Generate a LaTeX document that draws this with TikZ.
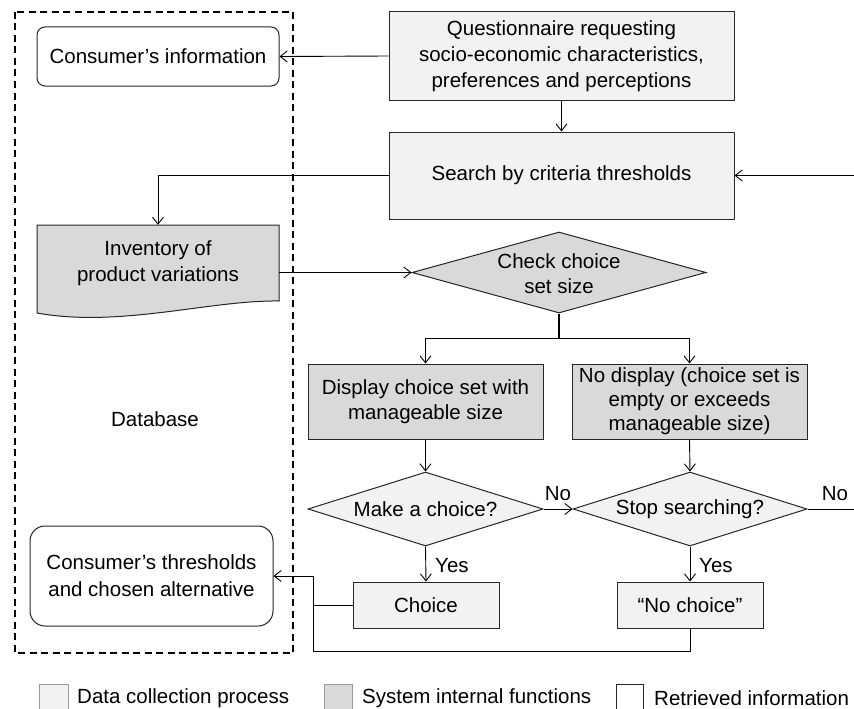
\documentclass[tikz,border=0pt]{standalone}
\usepackage{fontspec}
\setmainfont{Liberation Sans}
\usetikzlibrary{arrows.meta,shapes.geometric,calc}
\definecolor{lightg}{HTML}{F2F2F2}
\definecolor{midg}{HTML}{D9D9D9}
\definecolor{edge}{HTML}{262626}
\definecolor{legedge}{HTML}{9A9A9A}
\begin{document}
\begin{tikzpicture}[x=1pt,y=-1pt,
  every node/.style={font=\fontsize{20.5}{26}\selectfont},
  box/.style={rectangle,draw=edge,line width=1pt,align=center,inner sep=0pt},
  collect/.style={box,fill=lightg},
  sysfn/.style={box,fill=midg},
  retrieved/.style={box,fill=white,rounded corners=8pt},
  dia/.style={diamond,draw=edge,line width=1pt,inner sep=0pt},
  arr/.style={draw=black,line width=0.9pt,-{Straight Barb[length=7pt,width=11pt]}},
  conn/.style={draw=black,line width=0.9pt},
  lab/.style={inner sep=0pt},
  legbox/.style={draw=legedge,line width=1pt}
]
\useasboundingbox (0,0) rectangle (854,709);
\fill[white] (0,0) rectangle (854,709);

% Database frame
\draw[line width=1.7pt,dash pattern=on 7pt off 4.5pt] (15,12) rectangle (293,653);
\node[lab] (db) at (155,419) {Database};

% top boxes
\node[retrieved,minimum width=242pt,minimum height=59pt] (ci) at (158,56.5) {Consumer’s information};
\node[collect,minimum width=345pt,minimum height=88pt] (q) at (561.5,56) {Questionnaire requesting\\socio-economic characteristics,\\preferences and perceptions};
\node[collect,minimum width=345pt,minimum height=87pt] (s) at (561.5,175.5) {Search by criteria thresholds};

% inventory (document shape)
\fill[midg] (37,225) -- (279,225) -- (279,301) .. controls (210,300) and (120,328) .. (37,313) -- cycle;
\draw[edge,line width=1pt] (37,225) -- (279,225) -- (279,301) .. controls (210,300) and (120,328) .. (37,313) -- cycle;
\node[lab,align=center,minimum width=242pt,minimum height=76pt] (inv) at (158,263) {Inventory of\\product variations};

% check diamond
\node[dia,fill=midg,minimum width=294pt,minimum height=81pt] (d1) at (559,272.5) {};
\node[lab,align=center,font=\fontsize{20.5}{25}\selectfont] (d1t) at (559,274) {Check choice\\set size};

% display boxes
\node[sysfn,minimum width=235pt,minimum height=75pt,font=\fontsize{20.5}{25}\selectfont] (disp) at (425.5,401.5) {Display choice set with\\manageable size};
\node[sysfn,minimum width=235pt,minimum height=75pt,font=\fontsize{20.5}{24}\selectfont] (nod) at (689.5,401.5) {No display (choice set is\\empty or exceeds\\manageable size)};

% decision diamonds
\node[dia,fill=lightg,minimum width=235pt,minimum height=74pt] (d2) at (425.5,509) {};
\node[lab] (d2t) at (425.5,509) {Make a choice?};
\node[dia,fill=lightg,minimum width=234pt,minimum height=74pt] (d3) at (690,509) {};
\node[lab] (d3t) at (690,509) {Stop searching?};

% outcome boxes
\node[collect,minimum width=146pt,minimum height=46pt] (ch) at (426,605) {Choice};
\node[collect,minimum width=146pt,minimum height=46pt] (nch) at (690,605) {“No choice”};

% thresholds
\node[retrieved,rounded corners=15pt,minimum width=243pt,minimum height=100pt,font=\fontsize{20.5}{27}\selectfont] (ct) at (151.5,576) {Consumer’s thresholds\\and chosen alternative};

% coordinates
\coordinate (rin) at (854,175.5);
\coordinate (rout) at (854,509);
\coordinate (jx) at (313,576);
\coordinate (jb) at (313,651);

% connectors
\draw[arr] (q.west) -- (ci.east);
\draw[arr] (q.south) -- (s.north);
\draw[arr] (s.west) -| (inv.north);
\draw[arr] (rin) -- (s.east);
\draw[arr] (d1.west -| inv.east) -- (d1.west);
\draw[line width=1.6pt] (d1.south) -- ++(0,25) coordinate (split);
\draw[arr] (split) -| (disp.north);
\draw[arr] (split) -| (nod.north);
\draw[arr] (disp.south) -- (d2.north);
\draw[arr] (nod.south) -- (d3.north);
\draw[arr] (d2.east) -- (d3.west);
\draw[conn] (d3.east) -- (rout);
\draw[arr] (d2.south) -- (ch.north);
\draw[arr] (d3.south) -- (nch.north);
\draw[arr] (ch.west) -| (jx) -- (ct.east);
\draw[conn] (nch.south) |- (jb) -- (ch.west -| jb);

% labels
\node[lab] (no1) at (558,494) {No};
\node[lab] (no2) at (835,494) {No};
\node[lab,anchor=west] (yes1) at (435,566) {Yes};
\node[lab,anchor=west] (yes2) at (699,566) {Yes};

% legend
\draw[legbox,fill=lightg] (39,684) rectangle (68,714);
\node[lab,anchor=west] (l1) at (77,698) {Data collection process};
\draw[legbox,fill=midg] (324,684) rectangle (352,714);
\node[lab,anchor=west] (l2) at (362,698) {System internal functions};
\draw[legbox,fill=white,draw=edge] (616,684) rectangle (643,714);
\node[lab,anchor=west] (l3) at (654,698) {Retrieved information};
\end{tikzpicture}
\end{document}
